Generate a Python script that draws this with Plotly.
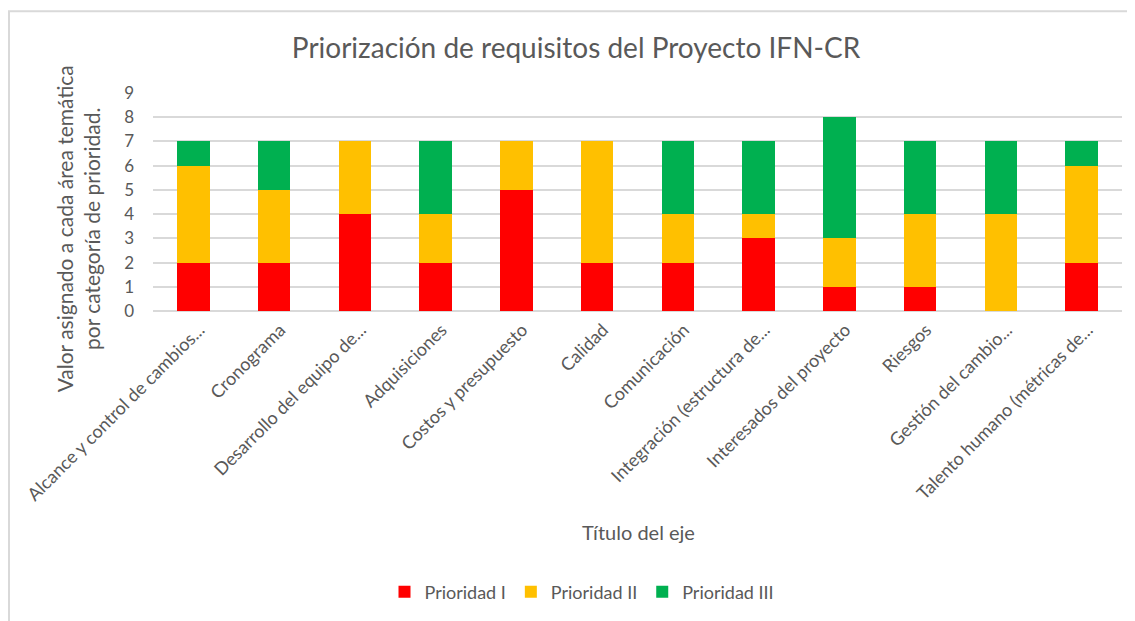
import plotly.graph_objects as go

categories = [
    "Alcance y control de cambios...",
    "Cronograma",
    "Desarrollo del equipo de...",
    "Adquisiciones",
    "Costos y presupuesto",
    "Calidad",
    "Comunicación",
    "Integración (estructura de...",
    "Interesados del proyecto",
    "Riesgos",
    "Gestión del cambio...",
    "Talento humano (métricas de...",
]
prioridad_1 = [2, 2, 4, 2, 5, 2, 2, 3, 1, 1, 0, 2]
prioridad_2 = [4, 3, 3, 2, 2, 5, 2, 1, 2, 3, 4, 4]
prioridad_3 = [1, 2, 0, 3, 0, 0, 3, 3, 5, 3, 3, 1]
series_names = ["Prioridad I", "Prioridad II", "Prioridad III"]
y_ticks = list(range(0, 10))

colors = ["#FF0000", "#FFC000", "#00B050"]
FONT = "Lato, 'Open Sans', sans-serif"
GREY = "#595959"

# page body adds an 8px offset; work in figure pixel coords
OFF = 8
W, H = 1135 - OFF, 621 - OFF
L, T = 153 - OFF, 93 - OFF
PW, PH = 969, 219
R = W - L - PW
B = H - T - PH


def px_x(x):
    return (x - OFF - L) / PW


def px_y(y):
    return (T + PH - (y - OFF)) / PH


fig = go.Figure()
for name, vals, col in zip(series_names, [prioridad_1, prioridad_2, prioridad_3], colors):
    fig.add_trace(go.Bar(
        x=categories, y=vals, name=name,
        marker=dict(color=col, line=dict(width=0)),
    ))

fig.update_layout(
    barmode="stack",
    bargap=0.6,
    width=W, height=H,
    margin=dict(l=L, r=R, t=T, b=B, pad=0),
    paper_bgcolor="white",
    plot_bgcolor="white",
    font=dict(family=FONT, color=GREY, size=15),
    title=dict(
        text="Priorización de requisitos del Proyecto IFN-CR",
        x=(576 - OFF) / W, xanchor="center", y=1 - (48 - OFF) / H, yanchor="middle",
        font=dict(size=28, color=GREY, family=FONT),
    ),
    xaxis=dict(
        tickangle=-45,
        tickfont=dict(size=18, color=GREY),
        showgrid=False,
        showline=False,
        ticks="",
        ticklabelshift=6,
        ticklabelstandoff=4,
        fixedrange=True,
    ),
    yaxis=dict(
        range=[0, 9],
        tickvals=y_ticks,
        tickfont=dict(size=17, color=GREY),
        showgrid=True, gridcolor="#D9D9D9", gridwidth=1.5,
        zeroline=True, zerolinecolor="#D9D9D9", zerolinewidth=1.5,
        showline=False, ticks="", ticklen=0,
        ticklabelstandoff=18,
    ),
    legend=dict(
        orientation="h",
        x=px_x(582), xanchor="center",
        y=px_y(592), yanchor="middle",
        font=dict(size=18, color=GREY),
        itemsizing="constant",
        traceorder="normal",
    ),
    showlegend=True,
    annotations=[
        dict(
            text="Valor asignado a cada área temática<br>por categoría de prioridad.",
            xref="paper", yref="paper",
            x=px_x(78), y=px_y(230),
            xanchor="center", yanchor="middle",
            textangle=-90, showarrow=False,
            font=dict(size=21, color=GREY, family=FONT),
        ),
        dict(
            text="Título del eje",
            xref="paper", yref="paper",
            x=px_x(638), y=px_y(534),
            xanchor="center", yanchor="middle",
            showarrow=False,
            font=dict(size=20, color=GREY, family=FONT),
        ),
    ],
    shapes=[
        dict(type="line", xref="paper", yref="paper",
             x0=px_x(9), x1=px_x(9),
             y0=px_y(11), y1=px_y(640),
             line=dict(color="#D9D9D9", width=2)),
        dict(type="line", xref="paper", yref="paper",
             x0=px_x(8), x1=px_x(1160),
             y0=px_y(11), y1=px_y(11),
             line=dict(color="#D9D9D9", width=2)),
    ],
)

fig.write_html("out.html")
